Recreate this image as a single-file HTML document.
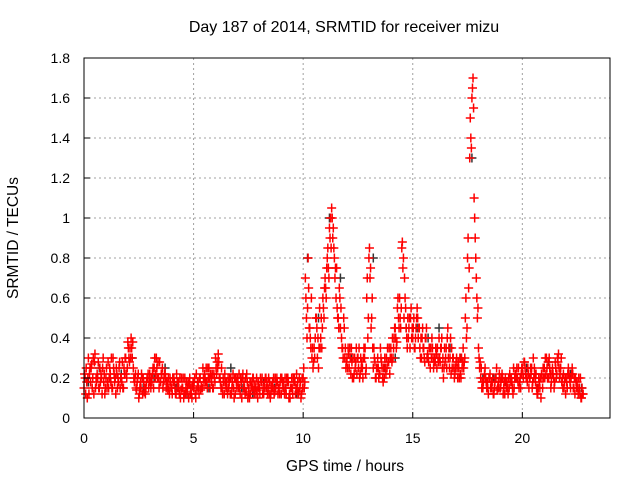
<!DOCTYPE html>
<html><head><meta charset="utf-8"><style>
body{margin:0;background:#fff}
svg{display:block;font-family:"Liberation Sans",sans-serif}
</style></head><body>
<svg id="chart" width="640" height="480" viewBox="0 0 640 480">
<rect width="640" height="480" fill="#fff"/>
<text x="344" y="32" text-anchor="middle" font-size="16">Day 187 of 2014, SRMTID for receiver mizu</text>
<g id="grid"></g>
<g id="marks"></g>
<rect x="84" y="58" width="526" height="360" fill="none" stroke="#000" stroke-width="1"/>
<g id="axes"></g>
<text x="345" y="471" text-anchor="middle" font-size="15.5">GPS time / hours</text>
<text x="18" y="238" text-anchor="middle" font-size="15.5" transform="rotate(-90 18 238)">SRMTID / TECUs</text>
</svg>
<script>
const xTicks=[0,5,10,15,20];
const yTicks=[0,0.2,0.4,0.6,0.8,1,1.2,1.4,1.6,1.8];
const yTickLabels=["0","0.2","0.4","0.6","0.8","1","1.2","1.4","1.6","1.8"];
const stepHours=0.1;
const seriesA=[.15,.25,.3,.18,.2,.32,.22,.15,.2,.18,
.2,.28,.22,.15,.18,.22,.25,.2,.15,.3,
.38,.35,.3,.18,.14,.1,.15,.2,.12,.2,
.22,.18,.25,.3,.2,.18,.15,.22,.17,.12,
.15,.2,.12,.18,.1,.15,.2,.13,.17,.12,
.15,.1,.18,.2,.15,.22,.18,.25,.2,.15,
.3,.25,.2,.15,.12,.18,.15,.2,.22,.12,
.2,.15,.1,.18,.13,.15,.12,.2,.17,.14,
.15,.18,.12,.2,.15,.1,.18,.13,.2,.15,
.12,.18,.15,.2,.1,.15,.2,.22,.13,.1,
.2,.7,.55,.45,.3,.35,.5,.25,.4,.6,
.7,.8,.95,1.05,.85,.6,.5,.45,.35,.3,
.3,.25,.35,.2,.28,.3,.22,.25,.3,.6,
.8,.45,.25,.2,.3,.22,.25,.2,.3,.28,
.35,.3,.45,.55,.6,.85,.5,.45,.4,.5,
.4,.35,.55,.45,.3,.35,.4,.3,.25,.35,
.3,.25,.4,.35,.2,.3,.45,.3,.25,.2,
.3,.25,.2,.35,.5,.8,1.3,1.6,1.1,.7,
.35,.2,.15,.25,.18,.2,.15,.12,.2,.18,
.15,.2,.12,.18,.15,.2,.25,.22,.18,.2,
.25,.28,.2,.15,.22,.3,.18,.12,.15,.2,
.25,.3,.2,.15,.22,.28,.3,.2,.18,.15,
.2,.25,.15,.22,.12,.18,.15,.1];
const seriesB=[.2,.1,.22,.27,.12,.2,.28,.18,.25,.12,
.15,.2,.3,.25,.12,.2,.15,.28,.22,.2,
.3,.4,.25,.22,.2,.15,.2,.13,.18,.15,
.15,.25,.2,.2,.28,.22,.2,.15,.2,.18,
.2,.15,.18,.12,.2,.1,.15,.18,.12,.16,
.2,.14,.12,.16,.2,.18,.25,.15,.22,.2,
.22,.28,.15,.2,.18,.12,.2,.15,.1,.18,
.15,.2,.22,.12,.18,.1,.16,.14,.12,.18,
.2,.12,.15,.18,.12,.16,.2,.15,.12,.18,
.18,.12,.2,.1,.15,.2,.12,.18,.15,.2,
.15,.5,.65,.35,.25,.4,.3,.55,.35,.5,
.6,.75,1.0,.9,.7,.55,.65,.4,.5,.25,
.35,.3,.2,.3,.22,.35,.25,.3,.22,.4,
.7,.6,.3,.25,.2,.3,.18,.25,.35,.22,
.28,.4,.35,.5,.45,.75,.6,.35,.5,.4,
.5,.45,.4,.3,.45,.28,.3,.35,.3,.25,
.35,.3,.28,.25,.35,.25,.35,.22,.3,.25,
.2,.3,.25,.28,.4,.65,1.4,1.7,.9,.5,
.25,.15,.2,.18,.12,.15,.2,.18,.14,.22,
.2,.15,.18,.12,.2,.15,.2,.25,.15,.22,
.2,.22,.25,.2,.15,.25,.15,.2,.1,.25,
.3,.2,.25,.22,.15,.2,.32,.25,.15,.2,
.15,.2,.22,.15,.18,.12,.2,.12];
const seriesC=[.22,.18,.12,.25,.3,.15,.2,.25,.12,.22,
.25,.15,.18,.3,.2,.15,.28,.18,.25,.22,
.35,.3,.38,.2,.18,.12,.22,.18,.15,.22,
.18,.22,.3,.25,.15,.22,.18,.2,.14,.2,
.12,.18,.22,.15,.14,.2,.12,.15,.2,.1,
.18,.22,.15,.14,.25,.2,.15,.2,.18,.22,
.25,.32,.18,.12,.22,.15,.18,.12,.15,.2,
.18,.12,.2,.15,.22,.12,.18,.2,.15,.1,
.12,.2,.18,.15,.2,.12,.15,.2,.18,.12,
.2,.15,.12,.18,.15,.12,.18,.15,.2,.12,
.25,.6,.8,.4,.35,.3,.45,.35,.5,.55,
.65,.85,.9,1.0,.8,.75,.45,.55,.3,.35,
.25,.35,.28,.22,.35,.25,.3,.2,.35,.7,
.85,.5,.35,.2,.25,.35,.2,.3,.25,.35,
.3,.35,.4,.6,.5,.88,.7,.4,.45,.55,
.45,.4,.5,.35,.4,.3,.45,.28,.35,.3,
.28,.35,.3,.4,.25,.35,.3,.4,.3,.22,
.25,.2,.3,.25,.6,.9,1.5,1.65,1.0,.6,
.3,.25,.18,.2,.15,.22,.18,.15,.25,.15,
.18,.12,.2,.15,.22,.18,.15,.2,.25,.15,
.22,.25,.18,.2,.25,.2,.22,.15,.2,.15,
.2,.25,.3,.18,.2,.25,.28,.22,.2,.18,
.18,.22,.2,.15,.2,.15,.12,.15];
const seriesD=[.12,.2,.25,.15,.28,.18,.15,.22,.3,.15,
.18,.25,.15,.22,.25,.18,.2,.15,.3,.25,
.28,.35,.2,.15,.22,.18,.12,.15,.2,.18,
.2,.15,.22,.28,.18,.25,.22,.18,.15,.15,
.18,.12,.15,.2,.15,.12,.18,.1,.15,.18,
.12,.18,.2,.15,.18,.25,.2,.22,.15,.18,
.28,.2,.25,.18,.15,.2,.12,.18,.2,.15,
.22,.18,.15,.2,.1,.18,.15,.12,.2,.15,
.18,.15,.2,.12,.18,.15,.12,.18,.15,.2,
.15,.2,.18,.12,.2,.18,.15,.12,.18,.15,
.18,.4,.45,.6,.28,.5,.4,.35,.45,.65,
.75,.7,.85,.95,.75,.5,.6,.35,.45,.28,
.32,.22,.3,.25,.3,.2,.28,.35,.25,.5,
.75,.35,.28,.25,.22,.28,.25,.22,.28,.3,
.4,.45,.38,.45,.55,.8,.55,.5,.35,.45,
.35,.5,.45,.4,.35,.4,.32,.35,.4,.28,
.32,.28,.35,.3,.28,.4,.25,.35,.25,.28,
.28,.22,.28,.3,.45,.75,1.35,1.55,.8,.55,
.28,.18,.22,.15,.2,.18,.12,.2,.15,.2,
.22,.18,.15,.2,.18,.12,.22,.2,.18,.25,
.28,.2,.22,.25,.18,.22,.12,.18,.22,.2,
.22,.28,.22,.25,.18,.22,.25,.3,.22,.12,
.22,.18,.25,.2,.15,.2,.1,.12];
const seriesK=[.18,.25,.2,.22,.3,.15,.2,.25,.15,.12,.18,.15,.2,.25,.15,.12,.18,.15,.15,.12,.8,.5,1.0,.7,.3,.25,.8,.25,.3,.45,.45,.4,.45,.35,.3,1.3,.2,.2,.18,.2,.25,.15,.28,.2,.22,.15];
const stepK=0.5;
const x=h=>84+h*(526/24);
const y=v=>418-v*200;
const NS="http://www.w3.org/2000/svg";
const grid=document.getElementById('grid'),axes=document.getElementById('axes'),marks=document.getElementById('marks');
function mk(tag,attrs,parent){const e=document.createElementNS(NS,tag);for(const k in attrs)e.setAttribute(k,attrs[k]);parent.appendChild(e);return e;}
xTicks.forEach(t=>{
  const gl=mk('line',{x1:x(t),x2:x(t),y1:58,y2:418,stroke:'#a0a0a0','stroke-dasharray':'2,3'},grid);
  
  
  const tk=mk('line',{x1:x(t),x2:x(t),y1:418,y2:412,stroke:'#000'},axes);
  
  
  const tx=mk('text',{x:x(t),y:443,'text-anchor':'middle','font-size':'14'},axes);
  tx.textContent=String(t);
  
  
});
yTicks.forEach((t,i)=>{
  if(i>0&&i<yTicks.length-1){
  const gl=mk('line',{x1:84,x2:610,y1:y(t),y2:y(t),stroke:'#a0a0a0','stroke-dasharray':'2,3'},grid);
  
  }
  const tk=mk('line',{x1:84,x2:90,y1:y(t),y2:y(t),stroke:'#000'},axes);
  
  
  const tx=mk('text',{x:70,y:y(t)+5,'text-anchor':'end','font-size':'14'},axes);
  tx.textContent=yTickLabels[i];
  
  
});
function plus(cx,cy,color,name){
  const p=mk('path',{d:`M${cx-4.5} ${cy}H${cx+4.5}M${cx} ${cy-4.5}V${cy+4.5}`,stroke:color,'stroke-width':'1.5',fill:'none'},marks);
  
  
}
seriesK.forEach((v,i)=>plus(x(i*stepK+0.2),y(v),'#333','black-point'));
seriesA.forEach((v,i)=>plus(x(i*stepHours),y(v),'#ff0000','red-point'));
seriesC.forEach((v,i)=>plus(x(i*stepHours+0.025),y(v),'#ff0000','red-point'));
seriesB.forEach((v,i)=>plus(x(i*stepHours+0.05),y(v),'#ff0000','red-point'));
seriesD.forEach((v,i)=>plus(x(i*stepHours+0.075),y(v),'#ff0000','red-point'));
</script>
</body></html>
